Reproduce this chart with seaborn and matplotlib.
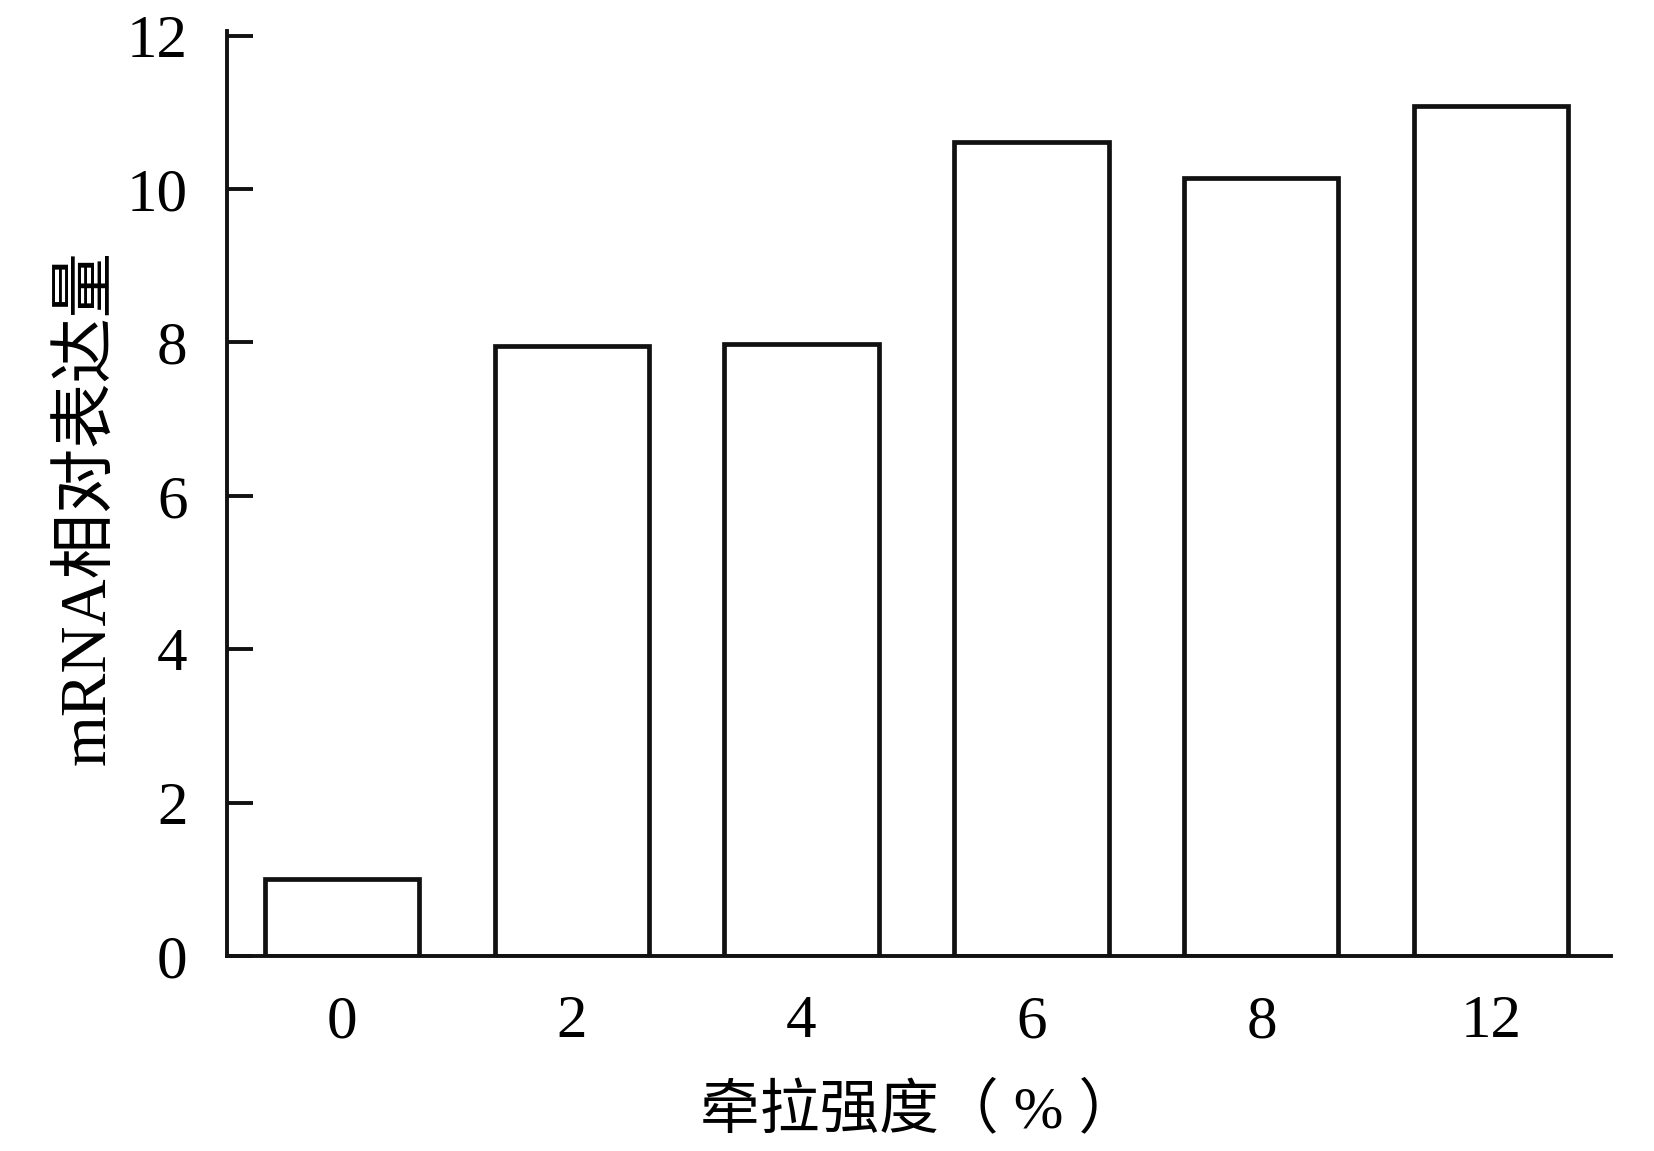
import matplotlib
matplotlib.use('Agg')
import matplotlib.pyplot as plt
import pandas as pd
import seaborn as sns

# Data
strain = ['0', '2', '4', '6', '8', '12']
expression = [1.0, 7.96, 7.98, 10.61, 10.15, 11.08]
y_ticks = [0, 2, 4, 6, 8, 10, 12]

df = pd.DataFrame({'strain': strain, 'expression': expression})

sns.set_style('ticks')
plt.rcParams['font.family'] = ['Liberation Serif', 'Noto Sans CJK SC']
plt.rcParams['text.color'] = 'black'
plt.rcParams['axes.labelcolor'] = 'black'
plt.rcParams['xtick.color'] = 'black'
plt.rcParams['ytick.color'] = 'black'

fig = plt.figure(figsize=(16.54, 11.51), dpi=100)
ax = fig.add_axes([0.137, 0.1694, 0.837, 0.8036])

sns.barplot(data=df, x='strain', y='expression', order=strain,
            color='white', edgecolor='#111111', linewidth=3.4,
            width=0.67, ax=ax)

ax.set_xlim(-0.5, 5.52)
ax.set_ylim(0, 12.06)
ax.set_yticks(y_ticks)
ax.set_yticklabels([str(t) for t in y_ticks])

sns.despine(ax=ax)
for side in ['left', 'bottom']:
    ax.spines[side].set_linewidth(2.8)
    ax.spines[side].set_color('#111111')

ax.tick_params(axis='y', direction='in', length=19, width=2.8,
               color='#111111', labelsize=44, pad=28)
ax.tick_params(axis='x', length=0, labelsize=44, pad=28)

ax.set_xlabel('牵拉强度（ % ）', fontsize=43, labelpad=24)
ax.set_ylabel('mRNA相对表达量', fontsize=47, labelpad=6)
ax.yaxis.label.set_y(0.485)

fig.savefig('out.png', dpi=100, facecolor='white')
